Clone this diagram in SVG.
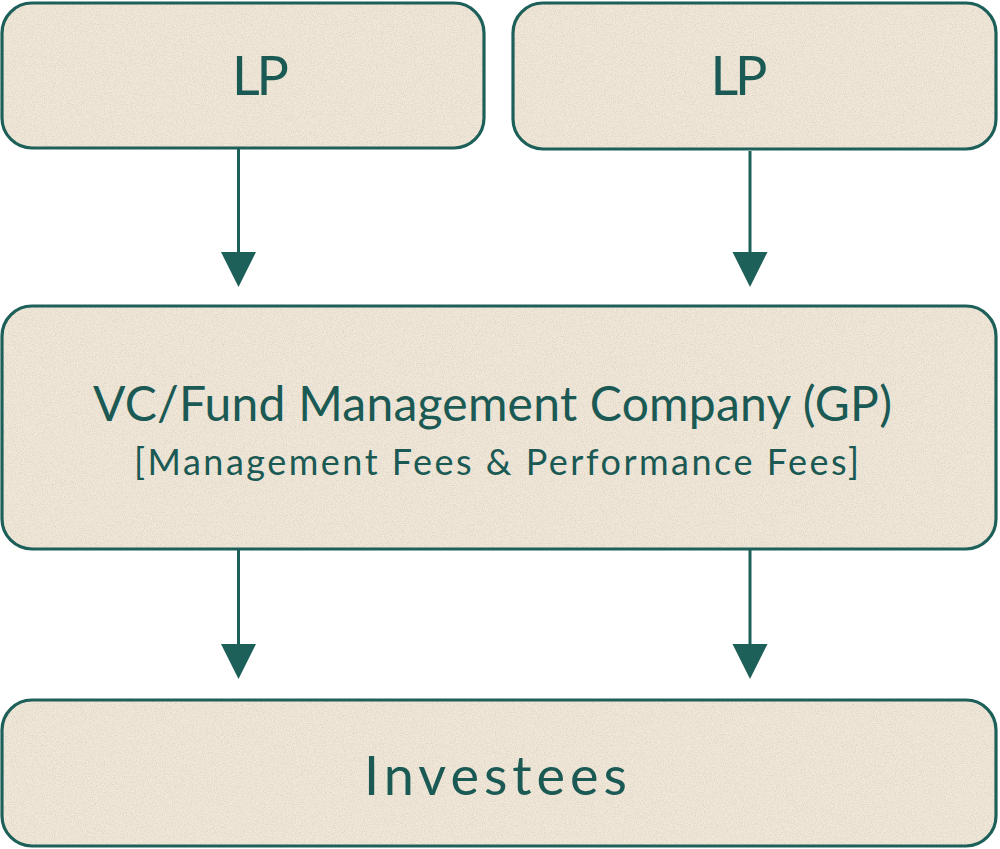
<svg xmlns="http://www.w3.org/2000/svg" width="1000" height="849" viewBox="0 0 1000 849">
<style>
.bg{fill:#f1e8d9;filter:url(#paper)}
.edge{fill:none;stroke:#1d5f59;stroke-width:3.2}
.t{fill:#1b5a54;font-family:Lato,"Open Sans","DejaVu Sans",sans-serif;font-weight:400;text-anchor:middle}
.wire{stroke:#1d5f59;stroke-width:3;fill:none}
.head{fill:#1d5f59}
</style>
<defs>
<filter id="paper" x="0" y="0" width="1" height="1">
<feTurbulence type="fractalNoise" baseFrequency="0.9" numOctaves="3" seed="7" result="n"/>
<feColorMatrix in="n" type="matrix" values="0 0 0 0 0.48  0 0 0 0 0.44  0 0 0 0 0.38  0 0 0 0.8 -0.3" result="g"/>
<feComposite in="g" in2="SourceGraphic" operator="in" result="gi"/>
<feMerge><feMergeNode in="SourceGraphic"/><feMergeNode in="gi"/></feMerge>
</filter>
</defs>
<rect width="1000" height="849" fill="#ffffff"/>
<g id="connectors">
<line class="wire" x1="238.5" y1="149" x2="238.5" y2="254"/>
<polygon class="head" points="221,252 256,252 238.5,287"/>
<line class="wire" x1="750" y1="151" x2="750" y2="254"/>
<polygon class="head" points="732.5,252 767.5,252 750,287"/>
<line class="wire" x1="238.5" y1="550" x2="238.5" y2="646"/>
<polygon class="head" points="221,644 256,644 238.5,679"/>
<line class="wire" x1="750" y1="550" x2="750" y2="646"/>
<polygon class="head" points="732.5,644 767.5,644 750,679"/>
</g>
<g id="lp1">
<rect class="bg" x="2" y="3" width="482" height="145" rx="30"/>
<rect class="edge" x="2" y="3" width="482" height="145" rx="30"/>
<text class="t" x="260.5" y="95" font-size="54" textLength="57" lengthAdjust="spacing">LP</text>
</g>
<g id="lp2">
<rect class="bg" x="513" y="3" width="483" height="146" rx="30"/>
<rect class="edge" x="513" y="3" width="483" height="146" rx="30"/>
<text class="t" x="739" y="95" font-size="54" textLength="57" lengthAdjust="spacing">LP</text>
</g>
<g id="gp">
<rect class="bg" x="2" y="306" width="994" height="243" rx="30"/>
<rect class="edge" x="2" y="306" width="994" height="243" rx="30"/>
<text class="t" x="492.5" y="421" font-size="48" textLength="799" lengthAdjust="spacing">VC/Fund Management Company (GP)</text>
<text class="t" x="496.5" y="475" font-size="36" textLength="725" lengthAdjust="spacing">[Management Fees &amp; Performance Fees]</text>
</g>
<g id="investees">
<rect class="bg" x="2" y="700" width="994" height="146" rx="30"/>
<rect class="edge" x="2" y="700" width="994" height="146" rx="30"/>
<text class="t" x="495.5" y="795" font-size="54" textLength="263" lengthAdjust="spacing">Investees</text>
</g>
</svg>
